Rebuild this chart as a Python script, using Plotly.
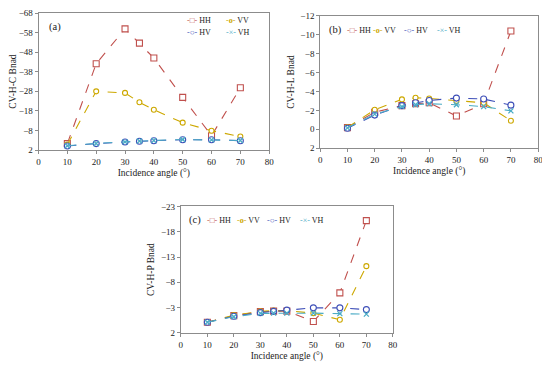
import plotly.graph_objects as go

# page body has an 8px default margin; size the figure to fit inside the window
OFF = 8
W, H = 550 - OFF, 368 - OFF

angles = [10, 20, 30, 35, 40, 50, 60, 70]

# Panel (a): CV-H-C Band
a_HH = [-1.3, -42.1, -59.9, -52.6, -45.0, -24.9, -5.3, -29.8]
a_VV = [-0.8, -28.0, -27.2, -22.4, -18.6, -12.0, -7.9, -4.9]
a_HV = [-0.1, -1.3, -2.1, -2.5, -2.8, -3.3, -3.3, -2.8]
a_VH = [-0.2, -1.4, -2.2, -2.6, -2.9, -3.4, -3.2, -2.9]

# Panel (b): CV-H-L Band
b_HH = [-0.17, -1.8, -2.5, -2.7, -2.8, -1.4, -2.7, -10.4]
b_VV = [-0.2, -2.06, -3.16, -3.33, -3.26, -3.0, -2.8, -0.9]
b_HV = [-0.1, -1.5, -2.5, -2.8, -3.05, -3.3, -3.2, -2.55]
b_VH = [-0.15, -1.6, -2.4, -2.6, -2.7, -2.6, -2.4, -1.95]

# Panel (c): CV-H-P Band
c_HH = [-0.1, -1.4, -2.2, -2.3, -2.3, -0.25, -5.9, -20.2]
c_VV = [-0.1, -1.5, -2.25, -2.4, -2.4, -1.9, -0.6, -11.2]
c_HV = [-0.1, -1.3, -2.0, -2.25, -2.5, -2.95, -2.95, -2.6]
c_VH = [-0.1, -1.2, -1.85, -1.9, -1.9, -1.9, -1.8, -1.7]

series_names = ["HH", "VV", "HV", "VH"]
colors = {"HH": "#C0504D", "VV": "#CDA800", "HV": "#3E4FB8", "VH": "#4BACC6"}
symbols = {"HH": "square", "VV": "circle", "HV": "circle", "VH": "x-thin"}
sizes = {"HH": 6, "VV": 5, "HV": 6, "VH": 5}
legend_glyph = {"HH": "-\u25a1-", "VV": "-<b>o</b>-",
                "HV": "-\u25cb-", "VH": "-\u00d7-"}

panels = [
    ("x", "y", {"HH": a_HH, "VV": a_VV, "HV": a_HV, "VH": a_VH}),
    ("x2", "y2", {"HH": b_HH, "VV": b_VV, "HV": b_HV, "VH": b_VH}),
    ("x3", "y3", {"HH": c_HH, "VV": c_VV, "HV": c_HV, "VH": c_VH}),
]

FONT = "Liberation Serif"

fig = go.Figure()
for xa, ya, data in panels:
    for name in series_names:
        sym = symbols[name]
        mk = dict(symbol=sym, size=sizes[name], color="white" if sym != "x-thin" else colors[name],
                  line=dict(color=colors[name], width=1.1 if sym != "x-thin" else 1.3))
        fig.add_trace(go.Scatter(
            x=angles, y=data[name], mode="lines+markers", name=name,
            xaxis=xa, yaxis=ya, showlegend=False,
            line=dict(color=colors[name], width=1.1, dash="dash"),
            marker=mk,
        ))

def px_x(p):
    return (p - OFF) / W

def px_y(p):
    return 1 - (p - OFF) / H

doms = {
    "a": ([34, 269], [8, 149]),
    "b": ([321, 543], [11, 147]),
    "c": ([179, 395], [207, 337]),
}

axis_common = dict(
    showgrid=False, zeroline=False, showline=True, linecolor="#8c8c8c", linewidth=1,
    mirror=True, ticks="outside", ticklen=3, tickcolor="#8c8c8c",
    tickfont=dict(family=FONT, size=9, color="#222"),
)

def xaxis(d):
    return dict(axis_common, domain=[px_x(d[0][0]), px_x(d[0][1])], range=[0, 80], dtick=10, tick0=0,
                title=dict(text="Incidence angle (\u00b0)", font=dict(family=FONT, size=9.5, color="#222"), standoff=3))

def yaxis(d, rng, dt, title, anchor):
    return dict(axis_common, domain=[px_y(d[1][1]), px_y(d[1][0])], range=rng, dtick=dt, tick0=2,
                anchor=anchor,
                title=dict(text=title, font=dict(family=FONT, size=9.5, color="#222"), standoff=4))

fig.update_layout(
    width=W, height=H, margin=dict(l=0, r=0, t=0, b=0),
    paper_bgcolor="white", plot_bgcolor="white",
    showlegend=False,
    xaxis=dict(xaxis(doms["a"]), anchor="y"),
    yaxis=yaxis(doms["a"], [2, -68], 10, "CV-H-C Bnad", "x"),
    xaxis2=dict(xaxis(doms["b"]), anchor="y2"),
    yaxis2=yaxis(doms["b"], [2, -12], 2, "CV-H-L Bnad", "x2"),
    xaxis3=dict(xaxis(doms["c"]), anchor="y3"),
    yaxis3=yaxis(doms["c"], [2, -23], 5, "CV-H-P Bnad", "x3"),
)

anns = []

def label(text, x, y, size=10.5):
    anns.append(dict(text=text, x=px_x(x), y=px_y(y), xref="paper", yref="paper",
                     xanchor="left", yanchor="middle", showarrow=False,
                     font=dict(family=FONT, size=size, color="#222")))

def leg_item(name, x, y):
    t = f"<span style='color:{colors[name]}'>{legend_glyph[name]}</span> {name}"
    anns.append(dict(text=t, x=px_x(x), y=px_y(y), xref="paper", yref="paper",
                     xanchor="left", yanchor="middle", showarrow=False,
                     font=dict(family=FONT, size=8, color="#222")))

label("(a)", 43, 22)
leg_item("HH", 183, 16)
leg_item("VV", 223, 16)
leg_item("HV", 183, 28)
leg_item("VH", 223, 28)

label("(b)", 328, 25)
for nm, x in zip(series_names, [346, 373, 404, 438]):
    leg_item(nm, x, 26)

label("(c)", 185, 221)
for nm, x in zip(series_names, [204, 234, 265, 298]):
    leg_item(nm, x, 221)

fig.update_layout(annotations=anns)
fig.write_html("out.html")
